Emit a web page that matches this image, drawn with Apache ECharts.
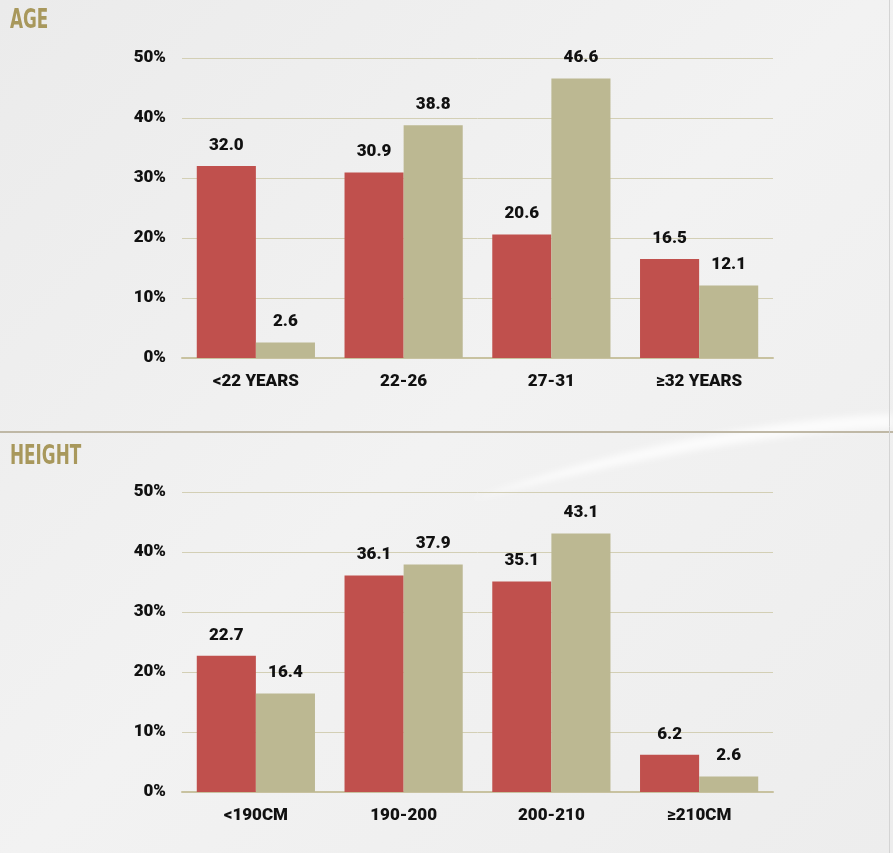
<!DOCTYPE html>
<html><head><meta charset="utf-8">
<script src="https://cdn.jsdelivr.net/npm/echarts@6/dist/echarts.min.js"></script>
<style>
html,body{margin:0;padding:0;background:#efefef}
#wrap{position:relative;width:893px;height:853px;background:linear-gradient(135deg,#ebebeb 0%,#f2f2f2 50%,#ededed 100%)}
#bg{position:absolute;left:0;top:0}
#c{position:absolute;left:0;top:0;width:893px;height:853px}
</style>
</head><body><div id="wrap">
<svg id="bg" width="893" height="853"><defs><filter id="b"><feGaussianBlur stdDeviation="3"/></filter></defs>
<path d="M 470 500 C 620 445, 780 418, 893 414 L 893 428 C 780 432, 640 456, 470 500 Z" fill="rgba(255,255,255,0.75)" filter="url(#b)"/></svg>
<div id="c"></div></div>
<script>
const ageCategories = ['<22 YEARS', '22-26', '27-31', '≥32 YEARS'];
const ageRed = [32.0, 30.9, 20.6, 16.5];
const ageTan = [2.6, 38.8, 46.6, 12.1];
const heightCategories = ['<190CM', '190-200', '200-210', '≥210CM'];
const heightRed = [22.7, 36.1, 35.1, 6.2];
const heightTan = [16.4, 37.9, 43.1, 2.6];
const yTicks = [0, 10, 20, 30, 40, 50];

const RED = '#c0504d', TAN = '#bcb892';
const font = 'Roboto';
const titleFont = 'bold 26px "DejaVu Sans Condensed", "DejaVu Sans", sans-serif';
const chart = echarts.init(document.getElementById('c'));
function xAx(cats, gi) {
  return {
    type: 'category', data: cats, gridIndex: gi,
    axisLine: {lineStyle: {color: '#c8c2a0', width: 2}},
    axisTick: {show: false},
    axisLabel: {color: '#111', fontFamily: font, fontWeight: 900, fontSize: 17, margin: 15}
  };
}
function yAx(gi) {
  return {
    type: 'value', gridIndex: gi, min: yTicks[0], max: yTicks[yTicks.length - 1], interval: 10,
    axisLine: {show: false}, axisTick: {show: false},
    splitLine: {lineStyle: {color: '#d3cfb5', width: 1}},
    axisLabel: {color: '#111', fontFamily: font, fontWeight: 900, fontSize: 17, margin: 16, formatter: v => v + '%'}
  };
}
function bar(data, color, gi) {
  return {
    type: 'bar', data: data, xAxisIndex: gi, yAxisIndex: gi,
    barGap: '0%', barCategoryGap: '20%',
    itemStyle: {color: color},
    label: {show: true, position: 'top', distance: 12, color: '#111', fontFamily: font, fontWeight: 900, fontSize: 17,
      formatter: p => p.value.toFixed(1)}
  };
}
chart.setOption({
  backgroundColor: 'transparent',
  animation: false,
  graphic: [
    {type: 'text', x: 10, y: 8, scaleX: 0.72, style: {text: 'AGE', fill: '#a8985c', font: titleFont}},
    {type: 'text', x: 10, y: 444, scaleX: 0.72, style: {text: 'HEIGHT', fill: '#a8985c', font: titleFont}},
    {type: 'line', shape: {x1: 0, y1: 432, x2: 893, y2: 432}, style: {stroke: '#bfb8a6', lineWidth: 2}},
    {type: 'line', shape: {x1: 889.5, y1: 0, x2: 889.5, y2: 853}, style: {stroke: '#d4d4d4', lineWidth: 1}}
  ],
  grid: [
    {left: 182, right: 120, top: 58, bottom: 495},
    {left: 182, right: 120, top: 492, bottom: 61}
  ],
  xAxis: [xAx(ageCategories, 0), xAx(heightCategories, 1)],
  yAxis: [yAx(0), yAx(1)],
  series: [bar(ageRed, RED, 0), bar(ageTan, TAN, 0), bar(heightRed, RED, 1), bar(heightTan, TAN, 1)]
});
</script></body></html>
